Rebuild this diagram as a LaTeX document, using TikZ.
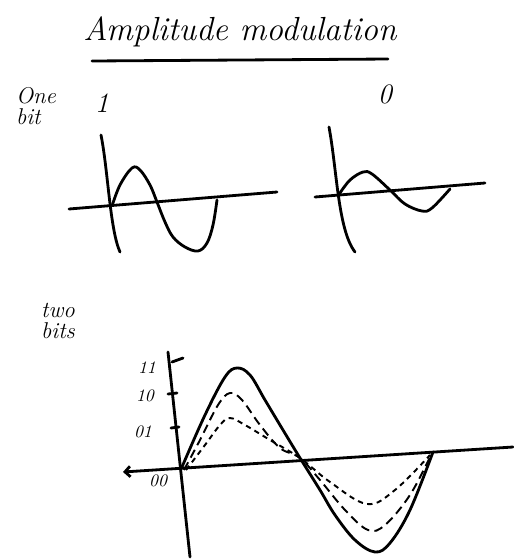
\documentclass[tikz,border=0pt]{standalone}
\usepackage{tikz}
\usetikzlibrary{arrows.meta}

\begin{document}
\begin{tikzpicture}[
    x=0.02cm, y=-0.02cm,
    pen/.style={line width=1.6pt, line cap=round, line join=round},
    wave/.style={pen, smooth, tension=0.6},
    midwave/.style={line width=1.1pt, dashed, dash pattern=on 5pt off 3pt, smooth, tension=0.6},
    lowwave/.style={line width=1.1pt, dash pattern=on 3pt off 2.5pt, smooth, tension=0.6},
    txt/.style={font=\itshape\fontsize{13}{12}\selectfont, align=left},
    digit/.style={font=\itshape\fontsize{16}{16}\selectfont},
    lvl/.style={font=\itshape\fontsize{10}{10}\selectfont}
  ]
    \useasboundingbox (0,0) rectangle (514,559);

    % Title
    \node[font=\itshape\fontsize{19}{22}\selectfont] (title) at (240,32) {Amplitude modulation};
    \draw[pen] (92,61) -- (388,59);

    % One bit
    \node[txt] (onebit) at (36,106) {One\\bit};
    \node[digit] (bitone) at (102,103) {1};
    \node[digit] (bitzero) at (385,94) {0};

    % Left sketch (bit 1)
    \draw[pen] (101,135) .. controls (108,170) and (110,230) .. (120,252);
    \draw[pen] (69,209) -- (277,192);
    \draw[wave] plot coordinates {(112,206) (120,185) (132,168) (140,170)
      (150,185) (157,202) (165,222) (173,237) (185,247) (198,251) (207,243)
      (213,225) (217,200)};

    % Right sketch (bit 0)
    \draw[pen] (329,127) .. controls (337,170) and (338,230) .. (355,252);
    \draw[pen] (315,197) -- (485,183);
    \draw[wave] plot coordinates {(340,193) (350,180) (363,172) (372,174)
      (390,190) (405,204) (422,211) (432,208) (450,189)};

    % Two bits
    \node[txt] (twobits) at (58,321) {two\\bits};

    % Bottom axes
    \draw[pen] (168,352) -- (190,557);
    \draw[pen, {Straight Barb[length=3pt]}-] (123,472) -- (513,447);
    \draw[pen] (172,362) -- (183,358);
    \draw[pen] (168,394) -- (177,393);
    \draw[pen] (171,428) -- (179,427);

    % Level labels
    \node[lvl] (l11) at (147,368) {11};
    \node[lvl] (l10) at (145,396) {10};
    \node[lvl] (l01) at (143,432) {01};
    \node[lvl] (l00) at (158,481) {00};

    % Four amplitude levels
    \draw[wave] plot coordinates {(182,467) (205,415) (225,377) (237,368)
      (250,375) (265,400) (283,430) (300,458) (320,490) (335,515) (355,540)
      (375,552) (390,543) (410,510) (433,452)};
    \draw[midwave] plot coordinates {(184,470) (200,440) (218,405) (230,393)
      (242,400) (260,425) (280,448) (300,458) (320,480) (345,510) (368,530)
      (385,525) (410,495) (431,455)};
    \draw[lowwave] plot coordinates {(186,470) (205,445) (220,425) (230,418)
      (245,425) (270,440) (300,458) (330,482) (367,504) (395,490) (430,455)};
  \end{tikzpicture}
\end{document}
